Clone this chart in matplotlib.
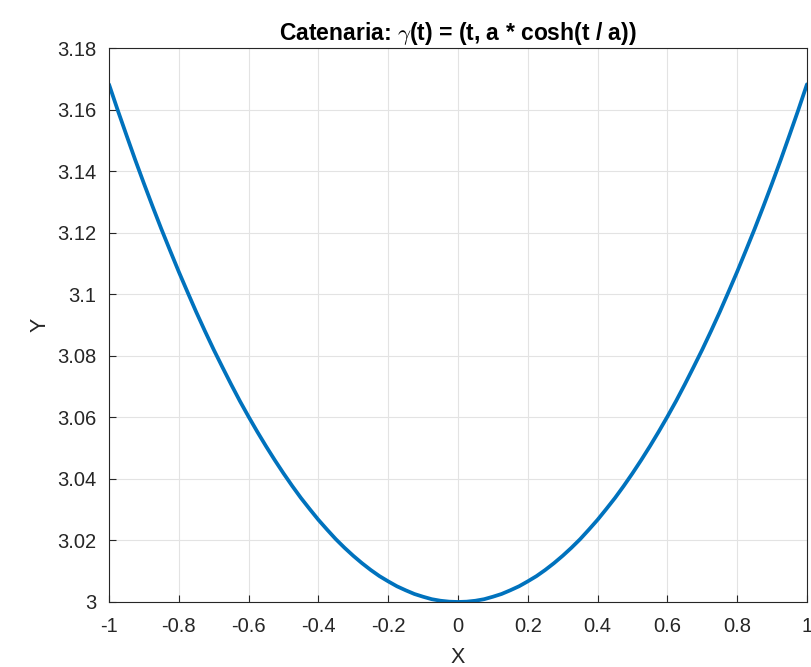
import matplotlib
matplotlib.use('Agg')
import matplotlib.pyplot as plt

# puntos (catenaria, a = 3), paso 0.025
xs = [-1.0, -0.975, -0.95, -0.925, -0.9, -0.875, -0.85, -0.825, -0.8, -0.775,
      -0.75, -0.725, -0.7, -0.675, -0.65, -0.625, -0.6, -0.575, -0.55, -0.525,
      -0.5, -0.475, -0.45, -0.425, -0.4, -0.375, -0.35, -0.325, -0.3, -0.275,
      -0.25, -0.225, -0.2, -0.175, -0.15, -0.125, -0.1, -0.075, -0.05, -0.025,
      0.0,
      0.025, 0.05, 0.075, 0.1, 0.125, 0.15, 0.175, 0.2, 0.225, 0.25,
      0.275, 0.3, 0.325, 0.35, 0.375, 0.4, 0.425, 0.45, 0.475, 0.5,
      0.525, 0.55, 0.575, 0.6, 0.625, 0.65, 0.675, 0.7, 0.725, 0.75,
      0.775, 0.8, 0.825, 0.85, 0.875, 0.9, 0.925, 0.95, 0.975, 1.0]
ys = [3.1682, 3.1598, 3.1517, 3.1437, 3.1360, 3.1285, 3.1212, 3.1142, 3.1073, 3.1007,
      3.0942, 3.0880, 3.0820, 3.0763, 3.0707, 3.0653, 3.0602, 3.0553, 3.0506, 3.0461,
      3.0418, 3.0377, 3.0338, 3.0302, 3.0267, 3.0235, 3.0204, 3.0176, 3.0150, 3.0126,
      3.0104, 3.0084, 3.0067, 3.0051, 3.0038, 3.0026, 3.0017, 3.0009, 3.0004, 3.0001,
      3.0000,
      3.0001, 3.0004, 3.0009, 3.0017, 3.0026, 3.0038, 3.0051, 3.0067, 3.0084, 3.0104,
      3.0126, 3.0150, 3.0176, 3.0204, 3.0235, 3.0267, 3.0302, 3.0338, 3.0377, 3.0418,
      3.0461, 3.0506, 3.0553, 3.0602, 3.0653, 3.0707, 3.0763, 3.0820, 3.0880, 3.0942,
      3.1007, 3.1073, 3.1142, 3.1212, 3.1285, 3.1360, 3.1437, 3.1517, 3.1598, 3.1682]

xticks = [-1, -0.8, -0.6, -0.4, -0.2, 0, 0.2, 0.4, 0.6, 0.8, 1]
xticklabels = ['-1', '-0.8', '-0.6', '-0.4', '-0.2', '0', '0.2', '0.4', '0.6', '0.8', '1']
yticks = [3, 3.02, 3.04, 3.06, 3.08, 3.1, 3.12, 3.14, 3.16, 3.18]
yticklabels = ['3', '3.02', '3.04', '3.06', '3.08', '3.1', '3.12', '3.14', '3.16', '3.18']

plt.rcParams['font.family'] = ['Liberation Sans', 'DejaVu Sans']
plt.rcParams['mathtext.fontset'] = 'cm'

gris = '#262626'
fig = plt.figure(figsize=(8.11, 6.67), dpi=100)
ax = fig.add_axes([0.1344, 0.0975, 0.995 - 0.1344, 0.928 - 0.0975])

ax.plot(xs, ys, color='#0072BD', linewidth=2.7, solid_capstyle='round',
        solid_joinstyle='round')

ax.set_xlim(-1, 1)
ax.set_ylim(3, 3.18)
ax.set_xticks(xticks)
ax.set_xticklabels(xticklabels)
ax.set_yticks(yticks)
ax.set_yticklabels(yticklabels)
ax.tick_params(direction='in', length=5, width=0.8, colors=gris, labelsize=14.5,
               top=False, right=False)
ax.tick_params(axis='x', pad=11)
ax.tick_params(axis='y', pad=9)
for s in ax.spines.values():
    s.set_color(gris)
    s.set_linewidth(0.8)
ax.grid(True, color='#E3E3E3', linewidth=0.8)
ax.set_axisbelow(True)

ax.set_xlabel('X', fontsize=15.5, color=gris, labelpad=8)
ax.set_ylabel('Y', fontsize=15.5, color=gris, labelpad=5)
ax.set_title(r'Catenaria: $\gamma$(t) = (t, a * cosh(t / a))', fontsize=16.5,
             fontweight='bold', color='black', pad=6)

fig.savefig('out.png', dpi=100)
